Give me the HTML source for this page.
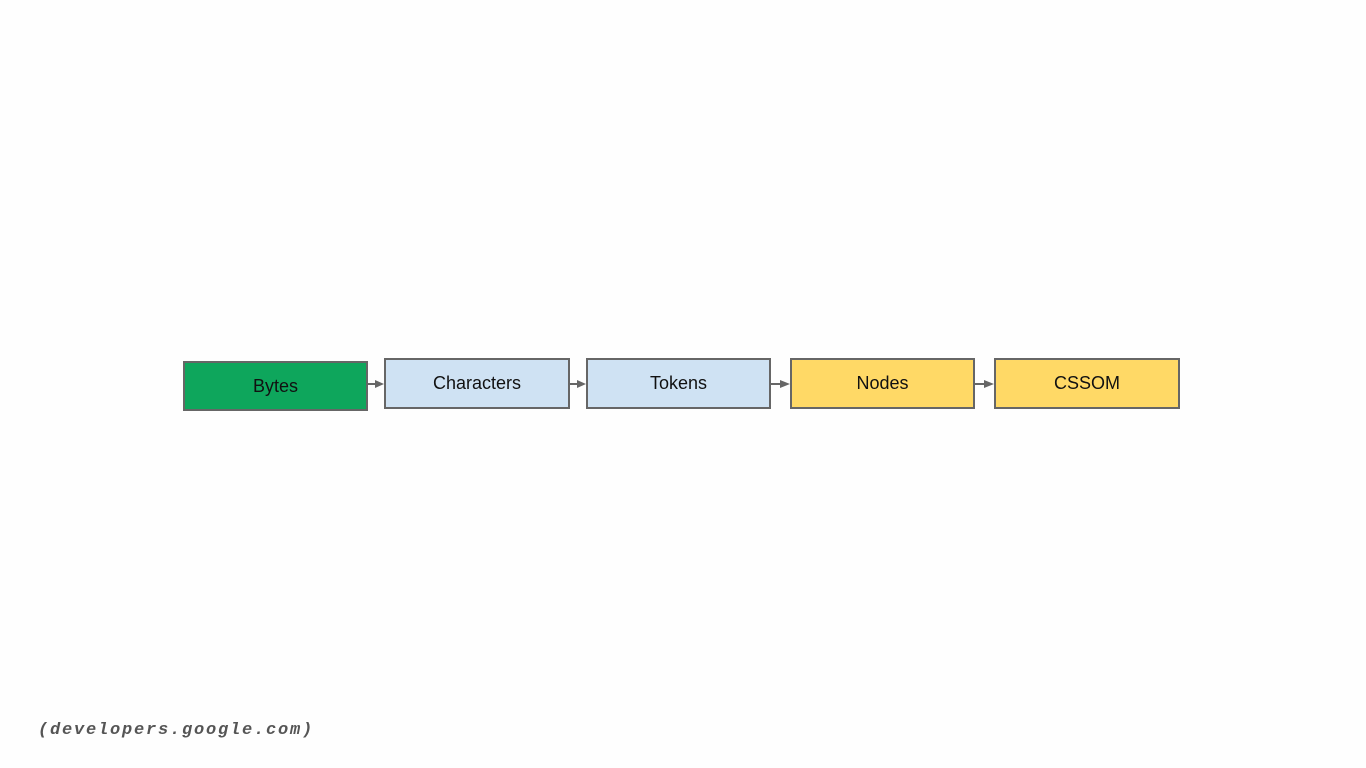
<!DOCTYPE html>
<html><head><style>
body{margin:0;width:1366px;height:768px;background:#fefefe;position:relative;overflow:hidden;font-family:"Liberation Sans",sans-serif}
.b{position:absolute;box-sizing:border-box;border:2px solid #666;display:flex;align-items:center;justify-content:center;font-size:18px;color:#111}
.cap{position:absolute;left:38px;top:721px;font-family:"Liberation Mono",monospace;font-weight:bold;font-style:italic;font-size:17px;letter-spacing:1.8px;color:#555}
</style></head><body>
<div class="b" style="left:183px;top:361px;width:185px;height:50px;background:#0ea65c">Bytes</div>
<div class="b" style="left:384px;top:358px;width:186px;height:51px;background:#cfe2f3">Characters</div>
<div class="b" style="left:586px;top:358px;width:185px;height:51px;background:#cfe2f3">Tokens</div>
<div class="b" style="left:790px;top:358px;width:185px;height:51px;background:#ffd966">Nodes</div>
<div class="b" style="left:994px;top:358px;width:186px;height:51px;background:#ffd966">CSSOM</div>
<svg width="1366" height="768" style="position:absolute;left:0;top:0">
<g stroke="#666" stroke-width="2" fill="#666">
<line x1="368" y1="384" x2="376" y2="384"/><polygon points="375,380 384,384 375,388" stroke="none"/>
<line x1="570" y1="384" x2="578" y2="384"/><polygon points="577,380 586,384 577,388" stroke="none"/>
<line x1="771" y1="384" x2="781" y2="384"/><polygon points="780,380 790,384 780,388" stroke="none"/>
<line x1="975" y1="384" x2="985" y2="384"/><polygon points="984,380 994,384 984,388" stroke="none"/>
</g></svg>
<div class="cap">(developers.google.com)</div>
</body></html>
